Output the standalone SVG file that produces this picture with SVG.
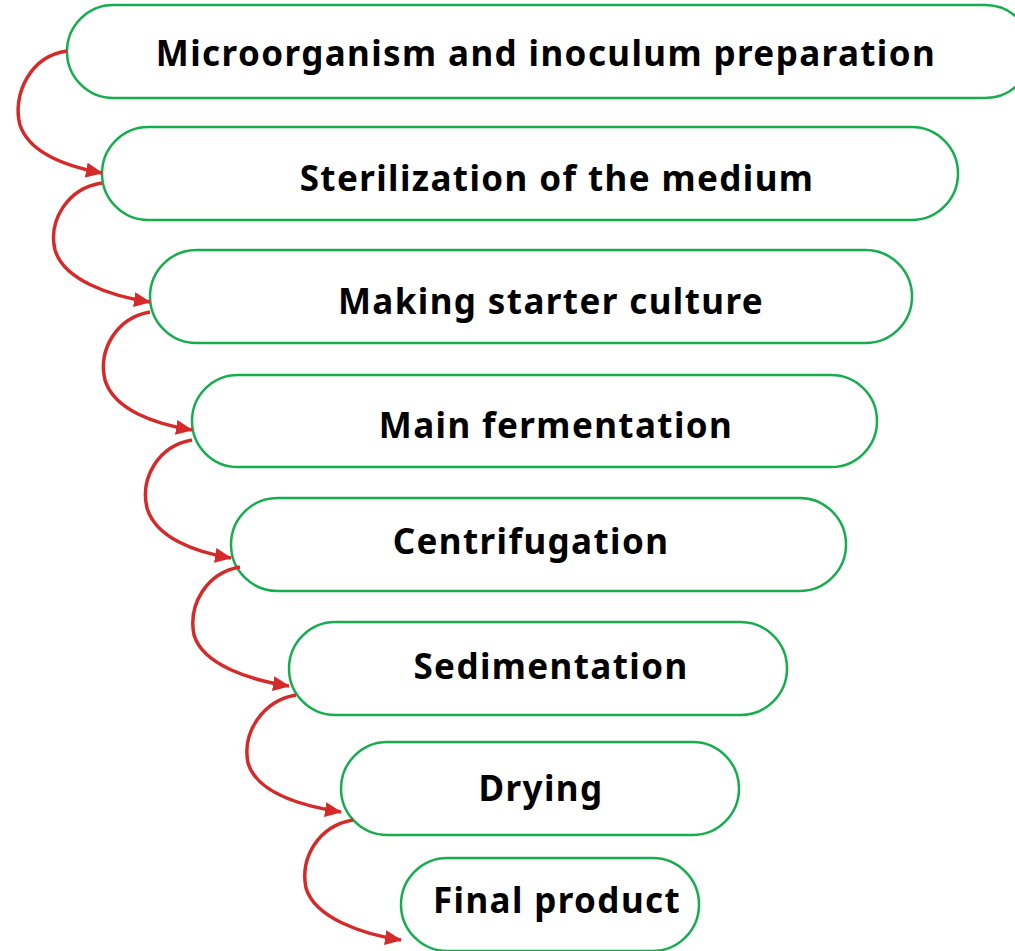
<svg xmlns="http://www.w3.org/2000/svg" width="1015" height="951" viewBox="0 0 1015 951">
<style>
.box{fill:#fff;stroke:#16ad4e;stroke-width:2.5}
.lbl{font-family:"Noto Sans","Open Sans",sans-serif;font-weight:bold;font-size:35px;letter-spacing:1.4px;fill:#000;text-anchor:middle}
.arr{fill:none;stroke:#d42a2a;stroke-width:3.5}
</style>
<defs>
<marker id="ah" markerWidth="17" markerHeight="15" refX="16" refY="7.5" orient="auto" markerUnits="userSpaceOnUse">
<path d="M0,0 L17,7.5 L0,15 z" fill="#d42a2a"/>
</marker>
</defs>
<g id="n1"><rect class="box" x="67" y="5" width="965" height="93" rx="46.5"/><text class="lbl" x="546" y="66">Microorganism and inoculum preparation</text></g>
<g id="n2"><rect class="box" x="102" y="127" width="856" height="93" rx="46.5"/><text class="lbl" x="557" y="191">Sterilization of the medium</text></g>
<g id="n3"><rect class="box" x="150" y="250" width="762" height="93" rx="46.5"/><text class="lbl" x="551" y="314">Making starter culture</text></g>
<g id="n4"><rect class="box" x="192" y="375" width="685" height="92" rx="46"/><text class="lbl" x="556" y="438">Main fermentation</text></g>
<g id="n5"><rect class="box" x="231" y="498" width="615" height="93" rx="46.5"/><text class="lbl" x="531" y="554">Centrifugation</text></g>
<g id="n6"><rect class="box" x="289" y="622" width="498" height="93" rx="46.5"/><text class="lbl" x="551" y="679">Sedimentation</text></g>
<g id="n7"><rect class="box" x="341" y="742" width="398" height="93" rx="46.5"/><text class="lbl" x="541" y="801">Drying</text></g>
<g id="n8"><rect class="box" x="401" y="858" width="298" height="93" rx="46.5"/><text class="lbl" x="557" y="913">Final product</text></g>
<g id="connectors">
<path class="arr" marker-end="url(#ah)" d="M67,51 C30,56 12,95 20,125 C30,155 70,167 102,173"/>
<path class="arr" marker-end="url(#ah)" d="M102,183 C68,188 48,220 55,250 C64,280 110,296 150,302"/>
<path class="arr" marker-end="url(#ah)" d="M150,312 C116,318 98,350 105,380 C114,410 155,424 192,430"/>
<path class="arr" marker-end="url(#ah)" d="M192,440 C158,446 140,478 147,508 C156,538 195,552 231,558"/>
<path class="arr" marker-end="url(#ah)" d="M240,567 C206,573 188,605 194,635 C203,665 250,680 289,686"/>
<path class="arr" marker-end="url(#ah)" d="M296,695 C262,701 242,733 248,763 C257,793 302,806 341,812"/>
<path class="arr" marker-end="url(#ah)" d="M353,820 C318,826 300,858 306,888 C315,918 362,934 401,940"/>
</g>
</svg>
